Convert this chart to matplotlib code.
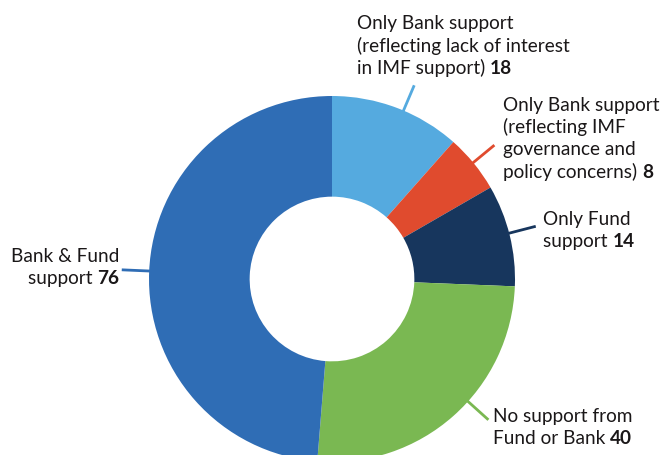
import numpy as np
import matplotlib
matplotlib.use("Agg")
import matplotlib.pyplot as plt

plt.rcParams['font.family'] = ['Lato', 'DejaVu Sans']

labels = [
    ["Only Bank support", "(reflecting lack of interest", "in IMF support)"],
    ["Only Bank support", "(reflecting IMF", "governance and", "policy concerns)"],
    ["Only Fund", "support"],
    ["No support from", "Fund or Bank"],
    ["Bank & Fund", "support"],
]
values = [18, 8, 14, 40, 76]
colors = ["#55aadf", "#e04b2e", "#17365d", "#7ab852", "#2f6db5"]

# layout: leader angle (deg), first baseline in pixels (x, y from top), alignment
leader_ang = [67, 39.5, 14.5, -42, 177.5]
text_pos = [(357, 29.5), (503, 111), (543, 225), (493, 422), (119, 262)]
text_ha = ["left", "left", "left", "left", "right"]
pitch = 22.2
fs = 13.7
tcol = "#1a1718"

W, H = 660, 456
cx, cy, R = 332, 280, 183
fig = plt.figure(figsize=(W / 100, H / 100), dpi=100)
ax = fig.add_axes([(cx - R) / W, (H - cy - R) / H, 2 * R / W, 2 * R / H])
ax.pie(values, colors=colors, startangle=90, counterclock=False, radius=1,
       wedgeprops=dict(width=0.55, linewidth=0))
ax.set_xlim(-1, 1)
ax.set_ylim(-1, 1)
ax.set_aspect('equal')
ax.axis('off')

renderer = fig.canvas.get_renderer()


def width_px(s, weight):
    t = fig.text(0, 0, s, fontsize=fs, fontweight=weight)
    w = t.get_window_extent(renderer).width
    t.remove()
    return w


for lines, val, col, ang, (tx, ty), ha in zip(labels, values, colors, leader_ang, text_pos, text_ha):
    a = np.deg2rad(ang)
    ax.plot([np.cos(a) * 0.99, np.cos(a) * 1.15], [np.sin(a) * 0.99, np.sin(a) * 1.15],
            color=col, lw=2, clip_on=False, solid_capstyle='butt')
    for i, ln in enumerate(lines[:-1]):
        fig.text(tx / W, 1 - (ty + i * pitch) / H, ln, ha=ha, va='baseline',
                 fontsize=fs, color=tcol)
    yb = 1 - (ty + (len(lines) - 1) * pitch) / H
    last = lines[-1] + " "
    wn = width_px(last, 'normal')
    wb = width_px(str(val), 'bold')
    x0 = tx if ha == "left" else tx - wn - wb
    fig.text(x0 / W, yb, last, ha='left', va='baseline', fontsize=fs, color=tcol)
    fig.text((x0 + wn) / W, yb, str(val), ha='left', va='baseline', fontsize=fs,
             fontweight='bold', color=tcol)

fig.savefig("out.png", dpi=100)
